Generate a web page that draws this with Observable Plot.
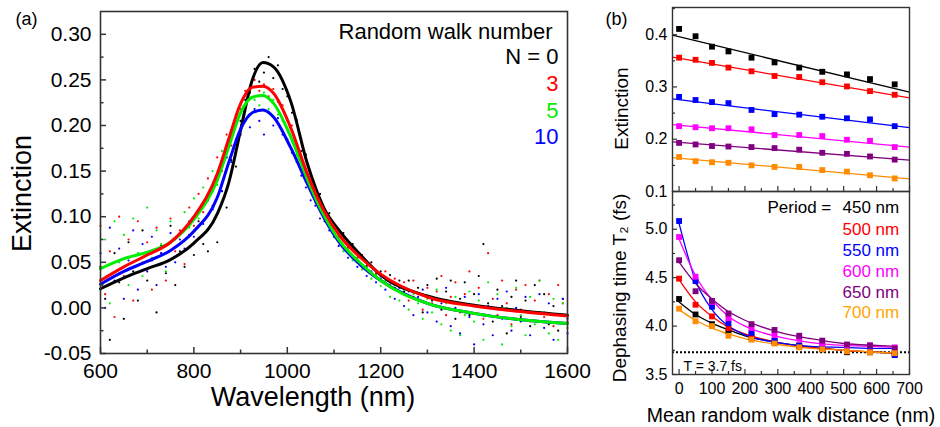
<!DOCTYPE html>
<html><head><meta charset="utf-8">
<script src="https://cdn.jsdelivr.net/npm/d3@7"></script>
<script src="https://cdn.jsdelivr.net/npm/@observablehq/plot@0.6"></script>
<style>
html,body{margin:0;padding:0;background:#fff;}
#wrap{position:relative;width:940px;height:427px;overflow:hidden;background:#fff;}
#wrap svg{position:absolute;left:0;top:0;}
</style></head><body><div id="wrap"></div>
<script>
const FONT = '"Liberation Sans", Arial, Helvetica, sans-serif';
const AX = "#333";

// ---------- Panel (a) data ----------
const wavelengths = d3.range(600, 1601, 10);
const walkNumbers = ["N = 0", "3", "5", "10"];
const walkColors = ["#000000", "#ff0000", "#00ee00", "#0000ff"];
const scatterN0 = [
.045,.010,-.035,.060,.028,-.012,.072,.040,.008,.085,
.030,.052,-.005,.068,.038,.090,.025,.062,.045,.080,
.058,.095,.070,.062,.112,.072,.128,.110,.162,.155,
.205,.228,.236,.262,.248,.258,.275,.252,.266,.240,
.232,.214,.206,.172,.168,.140,.128,.125,.100,.104,
.088,.080,.082,.068,.070,.055,.058,.046,.050,.036,
.040,.028,.036,.022,.030,.018,.030,.012,.022,-.005,
.025,.008,.032,-.002,.018,.030,-.012,.010,.028,-.008,
.015,.035,.070,.005,-.015,.020,.002,-.028,.012,.030,
-.010,.008,-.020,.025,-.005,.015,-.018,.002,-.025,.010,
-.012];
const scatterN3 = [
.090,.015,.062,-.010,.100,.035,.075,.008,.095,.050,
.072,.020,.088,.060,.030,.098,.062,.085,.048,.110,
.090,.125,.105,.142,.128,.165,.150,.190,.178,.212,
.218,.238,.230,.250,.238,.245,.232,.240,.226,.222,
.205,.200,.178,.165,.150,.138,.125,.112,.108,.095,
.090,.078,.076,.066,.064,.055,.058,.044,.046,.038,
.035,.040,.025,.032,.018,.028,.008,.030,.015,-.002,
.022,.005,.018,.035,-.008,.012,.028,-.005,.015,.040,
.002,.022,-.012,.060,.010,-.008,.030,.005,-.018,.020,
-.002,.025,-.015,.008,.030,-.010,.015,-.020,.025,.005,
-.015];
const scatterN5 = [
.020,.075,.005,.095,.050,.080,.025,.098,.060,.035,
.110,.055,.085,.070,.040,.095,.075,.060,.105,.088,
.120,.098,.132,.118,.150,.135,.172,.165,.195,.200,
.222,.215,.238,.228,.222,.236,.218,.228,.212,.205,
.198,.182,.168,.158,.138,.132,.115,.110,.095,.090,
.078,.074,.062,.064,.052,.050,.042,.044,.032,.036,
.024,.030,.012,.025,.008,.020,-.002,.015,.005,-.012,
.010,-.005,.020,-.018,.005,-.025,.012,-.030,-.008,.018,
-.015,.008,-.035,.028,-.010,.015,-.040,.000,-.020,.022,
-.008,-.030,.012,-.018,.030,-.005,-.028,.010,-.035,.005,
-.022];
const scatterN10 = [
.060,.000,.088,.030,.065,.010,.052,.085,.020,.070,
.040,.078,.025,.060,.045,.082,.050,.075,.065,.095,
.078,.105,.092,.118,.108,.140,.128,.165,.160,.185,
.190,.205,.198,.218,.205,.190,.215,.200,.208,.190,
.185,.170,.160,.145,.132,.118,.112,.098,.095,.085,
.078,.068,.066,.055,.056,.045,.046,.035,.040,.028,
.032,.020,.028,.010,.022,.002,.018,-.008,.012,.020,
-.005,.010,-.015,.005,.022,-.020,.000,-.028,.012,-.010,
-.040,.015,-.018,.002,-.030,.010,-.012,.018,-.025,.000,
-.015,.012,-.030,-.005,.015,-.022,.005,-.035,-.008,.010,
-.028];
const fitWavelengths = [600,650,700,750,800,850,875,900,925,948,971,1007,1043,1078,1114,1157,1200,1300,1400,1500,1600];
const fitN0  = [.021,.033,.043,.053,.071,.103,.138,.195,.250,.269,.264,.227,.158,.110,.083,.058,.036,.013,.003,-.003,-.008];
const fitN3  = [.030,.045,.058,.072,.100,.147,.186,.224,.242,.243,.235,.198,.147,.107,.078,.055,.037,.012,.002,-.004,-.009];
const fitN5  = [.043,.054,.061,.072,.097,.140,.177,.214,.231,.233,.224,.188,.141,.102,.072,.049,.030,.005,-.006,-.013,-.017];
const fitN10 = [.026,.040,.051,.063,.084,.121,.160,.196,.214,.217,.209,.176,.136,.0995,.070,.047,.030,.005,-.006,-.013,-.017];
const aXTicks = [600,800,1000,1200,1400,1600];
const aXMinor = [700,900,1100,1300,1500];
const aYTicks = [-0.05,0,0.05,0.10,0.15,0.20,0.25,0.30];
const aYMinor = [-0.025,0.025,0.075,0.125,0.175,0.225,0.275];

// ---------- Panel (b) data ----------
const distances = [0,50,100,150,220,290,365,435,510,580,655];
const periods = ["450 nm","500 nm","550 nm","600 nm","650 nm","700 nm"];
const periodColors = ["#000000","#ff0000","#0000ff","#ff00ff","#800080","#ff8c00"];
const periodTextColors = ["#000000","#ff0000","#0000ff","#ff00ff","#800080","#ffa500"];
const ext450 = [0.411,0.397,0.377,0.368,0.356,0.347,0.337,0.329,0.324,0.315,0.305];
const ext500 = [0.356,0.352,0.346,0.337,0.330,0.321,0.319,0.309,0.301,0.292,0.285];
const ext550 = [0.281,0.275,0.271,0.269,0.256,0.248,0.247,0.243,0.240,0.238,0.225];
const ext600 = [0.225,0.223,0.221,0.221,0.219,0.208,0.208,0.206,0.199,0.197,0.185];
const ext650 = [0.193,0.190,0.187,0.186,0.185,0.183,0.180,0.174,0.172,0.167,0.161];
const ext700 = [0.166,0.158,0.156,0.155,0.150,0.147,0.147,0.141,0.138,0.131,0.125];
const extFitRange = [-20, 700];
const extFitEnds = [[0.399,0.290],[0.357,0.279],[0.277,0.222],[0.228,0.185],[0.195,0.160],[0.165,0.124]];
const t2_450 = [4.28,4.12,4.02,3.95,3.88,3.83,3.79,3.76,3.73,3.73,3.71];
const t2_500 = [4.49,4.22,4.10,3.98,3.91,3.85,3.80,3.77,3.74,3.73,3.72];
const t2_550 = [5.085,4.465,4.20,4.03,3.93,3.85,3.80,3.78,3.76,3.76,3.70];
const t2_600 = [4.92,4.51,4.25,4.08,3.98,3.91,3.87,3.82,3.80,3.80,3.78];
const t2_650 = [4.68,4.36,4.26,4.13,4.02,3.96,3.90,3.85,3.81,3.80,3.77];
const t2_700 = [4.18,4.05,4.00,3.90,3.86,3.82,3.78,3.76,3.74,3.73,3.72];
const t2FitDist = [0,50,100,150,200,300,400,500,600,660];
const t2Fit450 = [4.25,4.12,4.03,3.96,3.90,3.83,3.78,3.75,3.73,3.72];
const t2Fit500 = [4.48,4.25,4.10,3.99,3.92,3.83,3.78,3.75,3.73,3.72];
const t2Fit550 = [5.06,4.47,4.17,4.00,3.91,3.83,3.79,3.78,3.77,3.77];
const t2Fit600 = [4.90,4.52,4.27,4.10,4.00,3.89,3.83,3.80,3.79,3.78];
const t2Fit650 = [4.66,4.44,4.28,4.15,4.06,3.94,3.87,3.82,3.80,3.79];
const t2Fit700 = [4.17,4.06,3.98,3.92,3.87,3.81,3.77,3.75,3.73,3.72];
const t2Limit = 3.73;
const t2LimitLabel = "T = 3.7 fs";
const bXTicks = [0,100,200,300,400,500,600,700];
const bXMinor = [50,150,250,350,450,550,650];
const bTopYTicks = [0.1,0.2,0.3,0.4];
const bTopYMinor = [0.15,0.25,0.35,0.45];
const bBotYTicks = [3.5,4.0,4.5,5.0];
const bBotYMinor = [3.75,4.25,4.75,5.25];

// ---------- helpers ----------
const style = {background:"transparent", fontFamily:FONT, overflow:"visible", color:"#000"};
const blank = () => "";
function label(txt, o) {
  return Plot.text([txt], {text: d => d, fill: "#000", fontFamily: FONT, ...o});
}
const wrap = document.getElementById("wrap");

// ---------- Panel (a) ----------
const scatterAll = [scatterN0, scatterN3, scatterN5, scatterN10];
const fitAll = [fitN0, fitN3, fitN5, fitN10];
const scatterRows = [];
wavelengths.forEach((w, j) => scatterAll.forEach((s, i) => scatterRows.push({wl: w, ext: s[j], c: walkColors[i]})));
const lineOrder = [0, 3, 2, 1];

const plotA = Plot.plot({
  width: 940, height: 427,
  marginLeft: 100, marginRight: 373, marginTop: 11, marginBottom: 74,
  x: {domain: [600, 1600]},
  y: {domain: [-0.05, 0.325]},
  color: {type: "identity"},
  style,
  marks: [
    Plot.dot(scatterRows, {x: "wl", y: "ext", fill: "c", r: 1.1, stroke: "none"}),
    ...lineOrder.map(i => Plot.line(fitWavelengths.map((w, j) => ({wl: w, ext: fitAll[i][j]})),
      {x: "wl", y: "ext", stroke: walkColors[i], strokeWidth: 3, curve: "monotone-x"})),
    Plot.frame({stroke: AX, strokeWidth: 1.6}),
    Plot.axisX({ticks: aXTicks, tickSize: -6, tickFormat: blank, label: null, stroke: AX, strokeWidth: 1.5}),
    Plot.axisX({ticks: aXMinor, tickSize: -3.5, tickFormat: blank, label: null, stroke: AX, strokeWidth: 1.5}),
    Plot.axisX({ticks: aXTicks, tickSize: 0, tickPadding: 10, fontSize: 21, tickFormat: d => String(d), label: null}),
    Plot.axisY({ticks: aYTicks, tickSize: -6, tickFormat: blank, label: null, stroke: AX, strokeWidth: 1.5}),
    Plot.axisY({ticks: aYMinor, tickSize: -3.5, tickFormat: blank, label: null, stroke: AX, strokeWidth: 1.5}),
    Plot.axisY({ticks: aYTicks, tickSize: 0, tickPadding: 9, fontSize: 21, tickFormat: d => d.toFixed(2), label: null}),
    label("Wavelength (nm)", {frameAnchor: "bottom", dx: -21, dy: 52, textAnchor: "middle", lineAnchor: "bottom", fontSize: 27}),
    label("Extinction", {frameAnchor: "left", dx: -78, dy: 11, rotate: -90, textAnchor: "middle", lineAnchor: "middle", fontSize: 27}),
    label("(a)", {frameAnchor: "top-left", dx: -85, dy: 13, textAnchor: "start", lineAnchor: "bottom", fontSize: 18}),
    label("Random walk number", {frameAnchor: "top-right", dx: -15, dy: 27, textAnchor: "end", lineAnchor: "bottom", fontSize: 22}),
    ...walkNumbers.map((n, i) => Plot.text([n], {text: d => d, frameAnchor: "top-right", dx: -9, dy: [52, 79, 106, 132][i],
      textAnchor: "end", lineAnchor: "bottom", fontSize: 22, fill: walkColors[i], fontFamily: FONT}))
  ]
});
wrap.appendChild(plotA);

// ---------- Panel (b) top ----------
const extAll = [ext450, ext500, ext550, ext600, ext650, ext700];
const plotBTop = Plot.plot({
  width: 940, height: 427,
  marginLeft: 672, marginRight: 31, marginTop: 7, marginBottom: 236,
  x: {domain: [-20, 700]},
  y: {domain: [0.1, 0.452]},
  style,
  marks: [
    ...extAll.map((e, i) => Plot.line(extFitRange.map((x, j) => ({d: x, v: extFitEnds[i][j]})),
      {x: "d", y: "v", stroke: periodColors[i], strokeWidth: 1.3})),
    ...extAll.map((e, i) => Plot.dot(distances.map((x, j) => ({d: x, v: e[j]})),
      {x: "d", y: "v", symbol: "square", r: 3.3, fill: periodColors[i], stroke: "none"})),
    Plot.frame({stroke: AX, strokeWidth: 1.4}),
    Plot.axisX({ticks: bXTicks, tickSize: -5, tickFormat: blank, label: null, stroke: AX, strokeWidth: 1.2}),
    Plot.axisX({ticks: bXMinor, tickSize: -3, tickFormat: blank, label: null, stroke: AX, strokeWidth: 1.2}),
    Plot.axisY({ticks: bTopYTicks, tickSize: -5, tickFormat: blank, label: null, stroke: AX, strokeWidth: 1.2}),
    Plot.axisY({ticks: bTopYMinor, tickSize: -3, tickFormat: blank, label: null, stroke: AX, strokeWidth: 1.2}),
    Plot.axisY({ticks: bTopYTicks, tickSize: 0, tickPadding: 5, fontSize: 16, tickFormat: d => d.toFixed(1), label: null}),
    label("Extinction", {frameAnchor: "left", dx: -51, dy: 9, rotate: -90, textAnchor: "middle", lineAnchor: "middle", fontSize: 19}),
    label("(b)", {frameAnchor: "top-left", dx: -67, dy: 17, textAnchor: "start", lineAnchor: "bottom", fontSize: 18})
  ]
});
wrap.appendChild(plotBTop);

// ---------- Panel (b) bottom ----------
const t2All = [t2_450, t2_500, t2_550, t2_600, t2_650, t2_700];
const t2FitAll = [t2Fit450, t2Fit500, t2Fit550, t2Fit600, t2Fit650, t2Fit700];
const plotBBot = Plot.plot({
  width: 940, height: 427,
  marginLeft: 672, marginRight: 31, marginTop: 191, marginBottom: 53,
  x: {domain: [-20, 700]},
  y: {domain: [3.5, 5.39]},
  style,
  marks: [
    Plot.ruleY([t2Limit], {stroke: "#000", strokeWidth: 2, strokeDasharray: "2,2"}),
    ...t2FitAll.map((f, i) => Plot.line(t2FitDist.map((x, j) => ({d: x, v: f[j]})),
      {x: "d", y: "v", stroke: periodColors[i], strokeWidth: 1.3, curve: "monotone-x"})),
    ...t2All.map((e, i) => Plot.dot(distances.map((x, j) => ({d: x, v: e[j]})),
      {x: "d", y: "v", symbol: "square", r: 3.3, fill: periodColors[i], stroke: "none"})),
    Plot.frame({stroke: AX, strokeWidth: 1.4}),
    Plot.axisX({ticks: bXTicks, tickSize: -5, tickFormat: blank, label: null, stroke: AX, strokeWidth: 1.2}),
    Plot.axisX({ticks: bXMinor, tickSize: -3, tickFormat: blank, label: null, stroke: AX, strokeWidth: 1.2}),
    Plot.axisX({ticks: bXTicks, tickSize: 0, tickPadding: 8, fontSize: 16, tickFormat: d => String(d), label: null}),
    Plot.axisY({ticks: bBotYTicks, tickSize: -5, tickFormat: blank, label: null, stroke: AX, strokeWidth: 1.2}),
    Plot.axisY({ticks: bBotYMinor, tickSize: -3, tickFormat: blank, label: null, stroke: AX, strokeWidth: 1.2}),
    Plot.axisY({ticks: bBotYTicks, tickSize: 0, tickPadding: 5, fontSize: 16, tickFormat: d => d.toFixed(1), label: null}),
    label(t2LimitLabel, {frameAnchor: "bottom-left", dx: 11, dy: -4, textAnchor: "start", lineAnchor: "bottom", fontSize: 14}),
    label("Mean random walk distance (nm)", {frameAnchor: "bottom", dx: 0, dy: 47, textAnchor: "middle", lineAnchor: "bottom", fontSize: 19.5}),
    label("Dephasing time T\u2082 (fs)", {frameAnchor: "left", dx: -53, dy: 5, rotate: -90, textAnchor: "middle", lineAnchor: "middle", fontSize: 19}),
    label("Period =", {frameAnchor: "top-right", dx: -142, dy: 21, textAnchor: "start", lineAnchor: "bottom", fontSize: 17}),
    ...periods.map((p, i) => Plot.text([p], {text: d => d, frameAnchor: "top-right", dx: -67, dy: [21, 43, 64, 85, 106, 126][i],
      textAnchor: "start", lineAnchor: "bottom", fontSize: 17, fill: periodTextColors[i], fontFamily: FONT}))
  ]
});
wrap.appendChild(plotBBot);
</script></body></html>
